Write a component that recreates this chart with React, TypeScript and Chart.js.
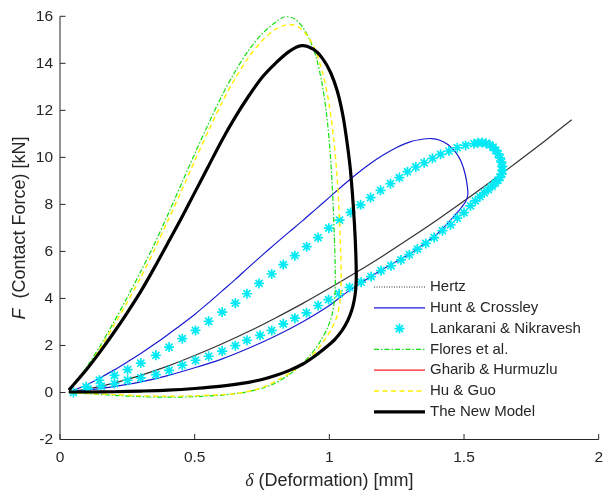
import { useEffect, useRef } from 'react';
import { Chart, registerables } from 'chart.js';

Chart.register(...registerables);

// ---------- tick labels ----------
const xTickValues = [0, 0.5, 1, 1.5, 2];
const xTickLabels = ['0', '0.5', '1', '1.5', '2'];
const yTickValues = [-2, 0, 2, 4, 6, 8, 10, 12, 14, 16];
const yTickLabels = ['-2', '0', '2', '4', '6', '8', '10', '12', '14', '16'];

const seriesNames = [
  'Hertz',
  'Hunt & Crossley',
  'Lankarani & Nikravesh',
  'Flores et al.',
  'Gharib & Hurmuzlu',
  'Hu & Guo',
  'The New Model',
];

// ---------- data: deformation [mm] / contact force [kN] ----------
const hertzDelta = [0.033, 0.1, 0.2, 0.3, 0.4, 0.5, 0.6, 0.7, 0.8, 0.9, 1.0, 1.1, 1.2, 1.3, 1.4, 1.5, 1.6, 1.7, 1.8, 1.9];
const hertzForce = [0.03, 0.14, 0.4, 0.73, 1.12, 1.57, 2.06, 2.59, 3.17, 3.78, 4.43, 5.11, 5.82, 6.57, 7.34, 8.14, 8.97, 9.82, 10.7, 11.6];

const huntDelta = [0.033, 0.1, 0.15, 0.2, 0.25, 0.3, 0.35, 0.4, 0.45, 0.5, 0.55, 0.6, 0.65, 0.7, 0.75, 0.8, 0.85, 0.9, 0.95, 1.0, 1.05, 1.1, 1.15, 1.2, 1.25, 1.3, 1.35, 1.38, 1.41, 1.44, 1.47, 1.49, 1.505, 1.513, 1.514, 1.505, 1.48, 1.44, 1.4, 1.35, 1.3, 1.23, 1.15, 1.07, 1.0, 0.9, 0.8, 0.7, 0.6, 0.5, 0.4, 0.3, 0.2, 0.1, 0.033];
const huntForce = [0.02, 0.33, 0.63, 0.95, 1.3, 1.66, 2.05, 2.46, 2.88, 3.32, 3.8, 4.3, 4.8, 5.32, 5.83, 6.33, 6.82, 7.3, 7.8, 8.3, 8.8, 9.28, 9.72, 10.1, 10.42, 10.66, 10.78, 10.8, 10.73, 10.55, 10.2, 9.8, 9.25, 8.7, 8.4, 8.1, 7.72, 7.2, 6.74, 6.3, 5.9, 5.45, 4.9, 4.3, 3.7, 3.0, 2.4, 1.88, 1.42, 1.05, 0.72, 0.45, 0.25, 0.1, 0.02];

const lankDelta = [0.05, 0.097, 0.146, 0.202, 0.251, 0.3, 0.356, 0.405, 0.454, 0.503, 0.552, 0.602, 0.651, 0.694, 0.739, 0.786, 0.829, 0.872, 0.916, 0.958, 0.998, 1.038, 1.079, 1.116, 1.153, 1.19, 1.227, 1.26, 1.29, 1.321, 1.352, 1.383, 1.413, 1.444, 1.475, 1.506, 1.537, 1.552, 1.567, 1.582, 1.596, 1.608, 1.618, 1.627, 1.634, 1.639, 1.642, 1.642, 1.64, 1.634, 1.626, 1.616, 1.604, 1.59, 1.575, 1.559, 1.542, 1.524, 1.5, 1.475, 1.45, 1.42, 1.389, 1.358, 1.327, 1.297, 1.266, 1.229, 1.192, 1.155, 1.118, 1.075, 1.036, 0.997, 0.958, 0.915, 0.872, 0.829, 0.786, 0.743, 0.694, 0.651, 0.602, 0.552, 0.503, 0.454, 0.405, 0.356, 0.3, 0.251, 0.202, 0.153, 0.104];
const lankForce = [0.0, 0.24, 0.52, 0.73, 0.97, 1.25, 1.58, 1.93, 2.29, 2.64, 3.03, 3.42, 3.8, 4.2, 4.64, 5.04, 5.44, 5.82, 6.2, 6.59, 6.99, 7.33, 7.66, 7.98, 8.29, 8.6, 8.88, 9.14, 9.39, 9.59, 9.77, 9.96, 10.13, 10.27, 10.41, 10.51, 10.58, 10.62, 10.63, 10.6, 10.53, 10.43, 10.3, 10.15, 9.98, 9.8, 9.62, 9.45, 9.3, 9.15, 9.02, 8.9, 8.77, 8.63, 8.49, 8.33, 8.15, 7.94, 7.65, 7.42, 7.13, 6.88, 6.59, 6.34, 6.1, 5.86, 5.64, 5.39, 5.18, 4.93, 4.69, 4.47, 4.2, 3.95, 3.7, 3.39, 3.16, 2.92, 2.64, 2.43, 2.22, 1.99, 1.76, 1.54, 1.37, 1.16, 0.94, 0.76, 0.62, 0.52, 0.38, 0.27, 0.15];

const floresDelta = [0.033, 0.1, 0.15, 0.2, 0.25, 0.3, 0.35, 0.4, 0.45, 0.5, 0.55, 0.6, 0.65, 0.7, 0.75, 0.8, 0.835, 0.87, 0.9, 0.925, 0.95, 0.972, 0.99, 1.003, 1.012, 1.018, 1.022, 1.021, 1.013, 0.995, 0.965, 0.93, 0.89, 0.85, 0.8, 0.75, 0.7, 0.65, 0.6, 0.5, 0.4, 0.3, 0.2, 0.1, 0.033];
const floresForce = [0.1, 1.1, 2.0, 3.0, 4.05, 5.15, 6.3, 7.55, 8.85, 10.15, 11.4, 12.6, 13.65, 14.55, 15.25, 15.75, 15.98, 15.9, 15.55, 15.05, 14.3, 13.2, 11.8, 10.2, 8.5, 6.8, 5.2, 4.2, 3.45, 2.8, 2.15, 1.6, 1.12, 0.75, 0.4, 0.18, 0.04, -0.05, -0.11, -0.18, -0.2, -0.18, -0.12, -0.05, 0.0];

const huguoDelta = [0.033, 0.1, 0.15, 0.2, 0.25, 0.3, 0.35, 0.4, 0.45, 0.5, 0.55, 0.6, 0.65, 0.7, 0.75, 0.8, 0.848, 0.885, 0.92, 0.95, 0.977, 1.0, 1.017, 1.029, 1.037, 1.042, 1.044, 1.04, 1.03, 1.01, 0.98, 0.95, 0.91, 0.87, 0.82, 0.77, 0.72, 0.65, 0.6, 0.5, 0.4, 0.3, 0.2, 0.1, 0.033];
const huguoForce = [0.1, 1.0, 1.9, 2.85, 3.85, 4.9, 6.05, 7.3, 8.55, 9.85, 11.1, 12.3, 13.35, 14.25, 14.95, 15.45, 15.65, 15.55, 15.15, 14.5, 13.5, 12.2, 10.7, 9.1, 7.5, 6.0, 4.8, 3.95, 3.3, 2.75, 2.2, 1.75, 1.3, 0.95, 0.6, 0.3, 0.1, -0.05, -0.09, -0.14, -0.16, -0.14, -0.09, -0.04, 0.0];

const newModelDelta = [0.033, 0.1, 0.15, 0.2, 0.25, 0.3, 0.35, 0.4, 0.45, 0.5, 0.55, 0.6, 0.65, 0.7, 0.75, 0.8, 0.85, 0.897, 0.94, 0.975, 1.005, 1.03, 1.05, 1.065, 1.077, 1.086, 1.093, 1.098, 1.1, 1.098, 1.092, 1.082, 1.068, 1.048, 1.02, 0.98, 0.94, 0.9, 0.85, 0.8, 0.75, 0.7, 0.6, 0.5, 0.4, 0.3, 0.2, 0.1, 0.033];
const newModelForce = [0.1, 1.0, 1.75, 2.55, 3.4, 4.3, 5.3, 6.35, 7.4, 8.5, 9.6, 10.7, 11.7, 12.6, 13.4, 14.0, 14.5, 14.75, 14.6, 14.2, 13.6, 12.8, 11.8, 10.7, 9.6, 8.4, 7.2, 6.0, 5.0, 4.4, 3.9, 3.45, 3.05, 2.65, 2.25, 1.85, 1.5, 1.2, 0.93, 0.72, 0.55, 0.43, 0.27, 0.17, 0.1, 0.06, 0.03, 0.02, 0.02];

// Gharib & Hurmuzlu coincides with the new model curve (hidden beneath it)
const gharibDelta = newModelDelta;
const gharibForce = newModelForce;

const toPoints = (xs: number[], ys: number[]) => xs.map((x, i) => ({ x, y: ys[i] }));

const FONT = '"Liberation Sans", Arial, Helvetica, sans-serif';
const AXIS_COLOR = '#262626';

const styles = [
  { color: '#333333', width: 1.2, dash: [] as number[], legendDash: [1, 1.5] },
  { color: '#1a1ad2', width: 1.2, dash: [] as number[], legendDash: [] as number[] },
  { color: '#00eaf6', width: 1.7, dash: [] as number[], legendDash: [] as number[] },
  { color: '#10e010', width: 1.2, dash: [5, 2, 1.5, 2], legendDash: [5, 2, 1.5, 2] },
  { color: '#ff2020', width: 1.2, dash: [] as number[], legendDash: [] as number[] },
  { color: '#ffee00', width: 1.4, dash: [5, 3.5], legendDash: [5, 3.5] },
  { color: '#000000', width: 3.2, dash: [] as number[], legendDash: [] as number[] },
];

const decorPlugin = {
  id: 'decor',
  afterDraw(chart: any) {
    const ctx = chart.ctx as CanvasRenderingContext2D;
    const { left, right, top, bottom } = chart.chartArea;
    const xs = chart.scales.x;
    const ys = chart.scales.y;
    ctx.save();
    // axis lines
    ctx.strokeStyle = AXIS_COLOR;
    ctx.lineWidth = 1;
    ctx.setLineDash([]);
    ctx.beginPath();
    ctx.moveTo(left, top);
    ctx.lineTo(left, bottom);
    ctx.lineTo(right, bottom);
    ctx.stroke();
    // inward ticks
    ctx.beginPath();
    xTickValues.forEach((v) => {
      const px = xs.getPixelForValue(v);
      ctx.moveTo(px, bottom);
      ctx.lineTo(px, bottom - 5.5);
    });
    yTickValues.forEach((v) => {
      const py = ys.getPixelForValue(v);
      ctx.moveTo(left, py);
      ctx.lineTo(left + 5.5, py);
    });
    ctx.stroke();

    // axis titles
    ctx.fillStyle = AXIS_COLOR;
    ctx.textBaseline = 'middle';
    ctx.textAlign = 'left';
    // x title
    {
      const p1 = 'δ';
      const p2 = ' (Deformation) [mm]';
      ctx.font = `italic 18px "Liberation Serif", "DejaVu Serif", serif`;
      const w1 = ctx.measureText(p1).width;
      ctx.font = `18px ${FONT}`;
      const w2 = ctx.measureText(p2).width;
      const cx = (left + right) / 2;
      const y = 481;
      let x = cx - (w1 + w2) / 2;
      ctx.font = `italic 18px "Liberation Serif", "DejaVu Serif", serif`;
      ctx.fillText(p1, x, y);
      x += w1;
      ctx.font = `18px ${FONT}`;
      ctx.fillText(p2, x, y);
    }
    // y title
    {
      const p1 = 'F';
      const p2 = '  (Contact Force) [kN]';
      ctx.font = `italic 18px ${FONT}`;
      const w1 = ctx.measureText(p1).width;
      ctx.font = `18px ${FONT}`;
      const w2 = ctx.measureText(p2).width;
      ctx.save();
      ctx.translate(20, (top + bottom) / 2);
      ctx.rotate(-Math.PI / 2);
      let x = -(w1 + w2) / 2;
      ctx.font = `italic 18px ${FONT}`;
      ctx.fillText(p1, x, 0);
      x += w1;
      ctx.font = `18px ${FONT}`;
      ctx.fillText(p2, x, 0);
      ctx.restore();
    }

    // legend
    const lx0 = 374;
    const lx1 = 425;
    const tx = 430;
    const y0 = 287;
    const dy = 20.8;
    ctx.font = `15px ${FONT}`;
    seriesNames.forEach((name, i) => {
      const y = y0 + i * dy;
      const st = styles[i];
      if (i === 2) {
        const cx = (lx0 + lx1) / 2;
        const r = 5;
        ctx.strokeStyle = st.color;
        ctx.lineWidth = st.width;
        ctx.setLineDash([]);
        ctx.beginPath();
        ctx.moveTo(cx - r, y);
        ctx.lineTo(cx + r, y);
        ctx.moveTo(cx, y - r);
        ctx.lineTo(cx, y + r);
        const d = r * Math.SQRT1_2;
        ctx.moveTo(cx - d, y - d);
        ctx.lineTo(cx + d, y + d);
        ctx.moveTo(cx - d, y + d);
        ctx.lineTo(cx + d, y - d);
        ctx.stroke();
      } else {
        ctx.strokeStyle = st.color;
        ctx.lineWidth = st.width;
        ctx.setLineDash(st.legendDash);
        ctx.beginPath();
        ctx.moveTo(lx0, y);
        ctx.lineTo(lx1, y);
        ctx.stroke();
      }
      ctx.setLineDash([]);
      ctx.fillStyle = AXIS_COLOR;
      ctx.fillText(name, tx, y);
    });
    ctx.restore();
  },
};

export default function App() {
  const canvasRef = useRef<HTMLCanvasElement | null>(null);

  useEffect(() => {
    if (!canvasRef.current) return;
    const lineDs = (idx: number, xs: number[], ys: number[], order: number) => ({
      label: seriesNames[idx],
      data: toPoints(xs, ys),
      showLine: true,
      borderColor: styles[idx].color,
      borderWidth: styles[idx].width,
      borderDash: styles[idx].dash,
      pointRadius: 0,
      tension: 0.3,
      fill: false,
      order,
    });

    const chart = new Chart(canvasRef.current, {
      type: 'scatter',
      data: {
        datasets: [
          lineDs(0, hertzDelta, hertzForce, 8),
          lineDs(1, huntDelta, huntForce, 7),
          {
            label: seriesNames[2],
            data: toPoints(lankDelta, lankForce),
            showLine: false,
            pointStyle: 'star',
            pointRadius: 5,
            pointBorderWidth: styles[2].width,
            pointBorderColor: styles[2].color,
            pointBackgroundColor: styles[2].color,
            order: 6,
          } as any,
          lineDs(3, floresDelta, floresForce, 5),
          lineDs(4, gharibDelta, gharibForce, 3),
          lineDs(5, huguoDelta, huguoForce, 4),
          lineDs(6, newModelDelta, newModelForce, 1),
        ],
      },
      options: {
        responsive: false,
        animation: false,
        layout: { padding: { top: 14.5, right: 10, left: 0, bottom: 0 } },
        plugins: {
          legend: { display: false },
          tooltip: { enabled: false },
        },
        scales: {
          x: {
            type: 'linear',
            min: 0,
            max: 2,
            grid: { display: false, drawTicks: false },
            border: { display: false },
            afterBuildTicks: (s: any) => {
              s.ticks = xTickValues.map((v) => ({ value: v }));
            },
            afterFit: (s: any) => {
              s.height = 56.5;
            },
            ticks: {
              padding: 9,
              color: AXIS_COLOR,
              font: { family: FONT, size: 15.5 },
              callback: (v: any) => {
                const i = xTickValues.indexOf(Number(v));
                return i >= 0 ? xTickLabels[i] : '';
              },
            },
          },
          y: {
            type: 'linear',
            min: -2,
            max: 16,
            grid: { display: false, drawTicks: false },
            border: { display: false },
            afterBuildTicks: (s: any) => {
              s.ticks = yTickValues.map((v) => ({ value: v }));
            },
            afterFit: (s: any) => {
              s.width = 60;
            },
            ticks: {
              padding: 7,
              color: AXIS_COLOR,
              font: { family: FONT, size: 15.5 },
              callback: (v: any) => {
                const i = yTickValues.indexOf(Number(v));
                return i >= 0 ? yTickLabels[i] : '';
              },
            },
          },
        },
      },
      plugins: [decorPlugin],
    });
    return () => chart.destroy();
  }, []);

  return (
    <div style={{ position: 'absolute', left: 0, top: 0, width: 612, height: 496, background: '#fff' }}>
      <canvas ref={canvasRef} width={612} height={496} style={{ display: 'block' }} />
    </div>
  );
}
